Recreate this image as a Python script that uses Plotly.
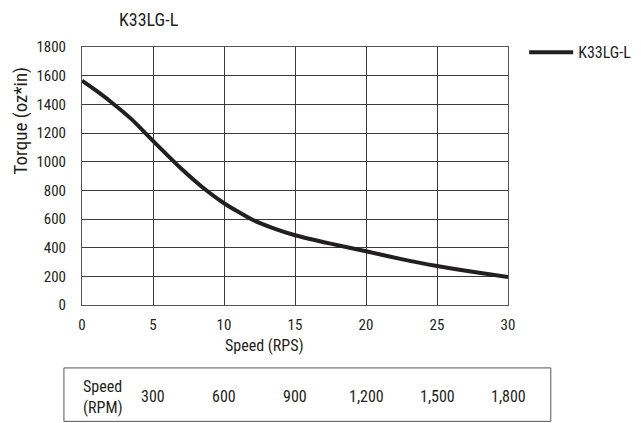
import plotly.graph_objects as go

# Data
speed_rps = [0, 1, 2, 3.5, 5, 7, 8.5, 10, 11, 12, 13.5, 15, 17.5, 20, 22.5, 25, 27.5, 30]
torque = [1565, 1495, 1420, 1295, 1145, 950, 820, 710, 650, 595, 535, 487, 428, 375, 320, 272, 232, 195]
series_name = "K33LG-L"
x_ticks = [0, 5, 10, 15, 20, 25, 30]
y_ticks = [0, 200, 400, 600, 800, 1000, 1200, 1400, 1600, 1800]
rpm_labels = ["300", "600", "900", "1,200", "1,500", "1,800"]
rpm_values = [300, 600, 900, 1200, 1500, 1800]

FONT = "Liberation Sans Narrow, Arial Narrow, Roboto Condensed, Liberation Sans, sans-serif"
INK = "#231f20"

# plot area in page pixels (page is offset 8px by body margin)
PL, PR, PT, PB = 82, 530, 46.7, 305
PW, PH = PR - PL, PB - PT


def px(xp):
    return (xp - PL) / PW


def py(yp):
    return (PB - yp) / PH


fig = go.Figure()
fig.add_trace(go.Scatter(
    x=speed_rps, y=torque, mode="lines", name=series_name,
    line=dict(color=INK, width=4, shape="spline", smoothing=0.6),
))

fig.update_layout(
    width=641, height=423,
    margin=dict(l=PL - 8, r=641 - (PR - 8), t=PT - 8, b=423 - (PB - 8)),
    paper_bgcolor="white", plot_bgcolor="white",
    font=dict(family=FONT, size=15, color=INK),
    showlegend=True,
    legend=dict(x=px(547), y=py(52), xanchor="left", yanchor="middle",
                font=dict(size=16, color=INK), bgcolor="rgba(0,0,0,0)",
                itemwidth=44),
    xaxis=dict(range=[0, 30], tickvals=x_ticks, ticks="", showgrid=True,
               gridcolor="#3a3a3a", gridwidth=1, showline=True, linecolor="#555555",
               mirror=True, zeroline=False, ticklabelstandoff=6,
               tickfont=dict(size=15)),
    yaxis=dict(range=[0, 1800], tickvals=y_ticks, ticks="", showgrid=True,
               gridcolor="#3a3a3a", gridwidth=1, showline=True, linecolor="#555555",
               mirror=True, zeroline=False, ticklabelstandoff=12,
               tickfont=dict(size=15)),
)

# Title
fig.add_annotation(text=series_name, xref="paper", yref="paper", x=px(152),
                   y=py(19), showarrow=False, font=dict(size=18),
                   xanchor="center", yanchor="middle")
# Y axis title
fig.add_annotation(text="Torque (oz*in)", xref="paper", yref="paper", x=px(17),
                   y=py(120), showarrow=False, font=dict(size=19), textangle=-90,
                   xanchor="center", yanchor="middle")
# X axis title
fig.add_annotation(text="Speed (RPS)", xref="paper", yref="paper", x=px(274),
                   y=py(346), showarrow=False, font=dict(size=16),
                   xanchor="center", yanchor="middle")

# RPM table box
fig.add_shape(type="rect", xref="paper", yref="paper",
              x0=px(63), x1=px(575), y0=py(421.5), y1=py(368),
              line=dict(color="#555555", width=1))
fig.add_annotation(text="Speed<br>(RPM)", xref="paper", yref="paper",
                   x=px(81), y=py(397), showarrow=False,
                   xanchor="left", yanchor="middle", align="left", font=dict(size=16))
for lab, rpm in zip(rpm_labels, rpm_values):
    fig.add_annotation(text=lab, xref="x", yref="paper", x=rpm / 60,
                       y=py(397), showarrow=False,
                       xanchor="center", yanchor="middle", font=dict(size=16))

fig.write_html("out.html")
